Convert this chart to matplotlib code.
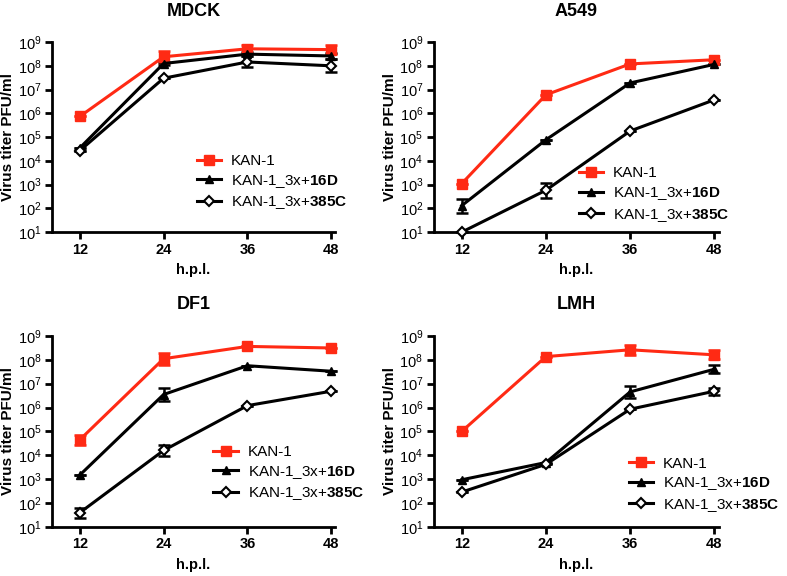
import numpy as np
import matplotlib
matplotlib.use('Agg')
import matplotlib.pyplot as plt
from matplotlib.ticker import LogLocator, NullLocator, FixedLocator

plt.rcParams['font.family'] = ['Liberation Sans', 'DejaVu Sans']
plt.rcParams['mathtext.fontset'] = 'custom'
plt.rcParams['mathtext.rm'] = 'Liberation Sans:bold'
plt.rcParams['mathtext.bf'] = 'Liberation Sans:bold'

hours = [12, 24, 36, 48]
series_names = ['KAN-1', 'KAN-1_3x+$\\mathbf{16D}$', 'KAN-1_3x+$\\mathbf{385C}$']

# mean titers; *_fold = error bar size as a fold factor (1 = no bar)
# MDCK
mdck_kan1 = [7.4e5, 2.4e8, 5.2e8, 4.8e8]
mdck_kan1_fold = [1, 1.75, 1.5, 1.6]
mdck_16d = [3.5e4, 1.25e8, 3.1e8, 2.6e8]
mdck_16d_fold = [1, 1.15, 1.2, 1.3]
mdck_385c = [2.7e4, 3.0e7, 1.45e8, 1.0e8]
mdck_385c_fold = [1, 1, 1.7, 1.9]

# A549
a549_kan1 = [1.1e3, 6.0e6, 1.2e8, 1.8e8]
a549_kan1_fold = [1, 1, 1, 1]
a549_16d = [1.3e2, 7.7e4, 1.9e7, 1.15e8]
a549_16d_fold = [2.0, 1, 1, 1]
a549_385c = [10, 5.8e2, 1.8e5, 3.7e6]
a549_385c_fold = [1, 2.05, 1, 1]

# DF1
df1_kan1 = [4.5e4, 1.1e8, 3.6e8, 3.1e8]
df1_kan1_fold = [1.6, 1.8, 1, 1]
df1_16d = [1.5e3, 3.5e6, 5.6e7, 3.3e7]
df1_16d_fold = [1, 1.8, 1, 1]
df1_385c = [40, 1.6e4, 1.2e6, 4.8e6]
df1_385c_fold = [1.6, 1.75, 1, 1]

# LMH
lmh_kan1 = [1.0e5, 1.35e8, 2.6e8, 1.6e8]
lmh_kan1_fold = [1, 1, 1.6, 1.55]
lmh_16d = [9.5e2, 5.0e3, 4.5e6, 4.0e7]
lmh_16d_fold = [1, 1, 1.8, 1.5]
lmh_385c = [2.9e2, 4.2e3, 8.5e5, 4.8e6]
lmh_385c_fold = [1, 1, 1, 1.4]

panels = [
    ('MDCK', [0.066, 0.597, 0.360, 0.330],
     [(mdck_kan1, mdck_kan1_fold), (mdck_16d, mdck_16d_fold), (mdck_385c, mdck_385c_fold)],
     (0.511, 0.11)),
    ('A549', [0.551, 0.597, 0.362, 0.330],
     [(a549_kan1, a549_kan1_fold), (a549_16d, a549_16d_fold), (a549_385c, a549_385c_fold)],
     (0.509, 0.045)),
    ('DF1', [0.066, 0.085, 0.360, 0.332],
     [(df1_kan1, df1_kan1_fold), (df1_16d, df1_16d_fold), (df1_385c, df1_385c_fold)],
     (0.57, 0.13)),
    ('LMH', [0.551, 0.085, 0.362, 0.332],
     [(lmh_kan1, lmh_kan1_fold), (lmh_16d, lmh_16d_fold), (lmh_385c, lmh_385c_fold)],
     (0.684, 0.07)),
]

red = '#ff2a14'
styles = [
    dict(color=red, marker='s', markersize=7, mfc=red, mec=red),
    dict(color='black', marker='^', markersize=6, mfc='black', mec='black'),
    dict(color='black', marker='D', markersize=5, mfc='white', mec='black', mew=1.5),
]

fig = plt.figure(figsize=(7.87, 5.76), dpi=100)

for title, rect, data, leg_pos in panels:
    ax = fig.add_axes(rect)
    for (vals, fold), name, st in zip(data, series_names, styles):
        v = np.array(vals)
        f = np.array(fold)
        yerr = [v - v / f, v * f - v]
        ax.errorbar(hours, v, yerr=yerr, fmt='none', ecolor=st['color'],
                    elinewidth=1.8, capsize=4, capthick=1.8, clip_on=False, zorder=2)
        ax.plot(hours, v, label=name, lw=2.2, clip_on=False, zorder=3, **st)
    ax.set_yscale('log')
    ax.set_ylim(10, 1e9)
    ax.set_xlim(8, 48.6)
    ax.yaxis.set_major_locator(LogLocator(base=10, numticks=20))
    ax.yaxis.set_minor_locator(NullLocator())
    ax.xaxis.set_major_locator(FixedLocator(hours))
    ax.set_xticklabels([str(h) for h in hours])
    for s in ['top', 'right']:
        ax.spines[s].set_visible(False)
    for s in ['left', 'bottom']:
        ax.spines[s].set_linewidth(2)
    ax.tick_params(axis='both', width=2, length=5, labelsize=10.5, pad=2.5)
    for lab in ax.get_xticklabels():
        lab.set_fontweight('bold')
    ax.set_title(title, fontsize=13, fontweight='bold', pad=19)
    ax.set_xlabel('h.p.l.', fontsize=10.5, fontweight='bold', labelpad=5)
    ax.set_ylabel('Virus titer PFU/ml', fontsize=11, fontweight='bold', labelpad=2)
    ax.legend(loc='lower left', bbox_to_anchor=leg_pos, frameon=False,
              fontsize=11, borderpad=0, borderaxespad=0, handlelength=1.6,
              handletextpad=0.65, labelspacing=0.3)

fig.savefig('out.png', dpi=100)
